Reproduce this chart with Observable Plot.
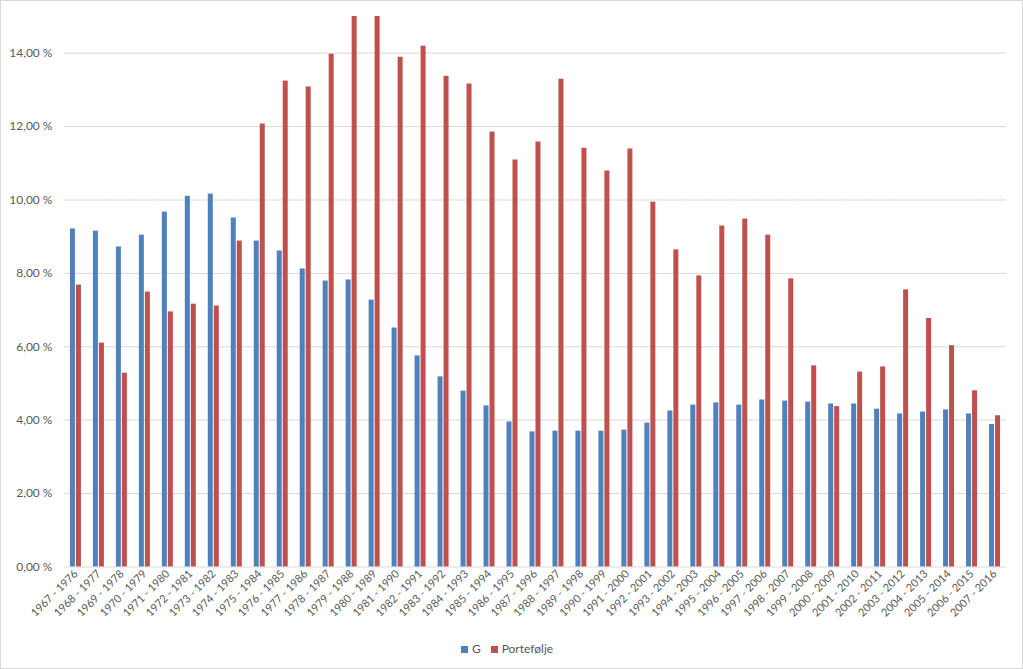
<!DOCTYPE html>
<html>
<head>
<meta charset="utf-8">
<script src="https://cdn.jsdelivr.net/npm/d3@7"></script>
<script src="https://cdn.jsdelivr.net/npm/@observablehq/plot@0.6"></script>
<style>
  html, body { margin: 0; padding: 0; background: #fff; }
  #frame { position: relative; width: 1023px; height: 669px; box-sizing: border-box; border: 1px solid #d9d9d9; overflow: hidden; font-family: Lato, "Open Sans", sans-serif; }
  #chart { position: absolute; left: -1px; top: -1px; }
  #legend { position: absolute; top: 640px; left: 0; width: 1012px; text-align: center; font-size: 12px; color: #595959; }
  #legend span.item { display: inline-block; margin: 0 5px; }
  #legend span.sw { display: inline-block; width: 7px; height: 7px; margin-right: 4px; vertical-align: 0px; }
</style>
</head>
<body>
<div id="frame">
  <div id="chart"></div>
  <div id="legend"></div>
</div>
<script>
const categories = [
  "1967 - 1976","1968 - 1977","1969 - 1978","1970 - 1979","1971 - 1980","1972 - 1981","1973 - 1982",
  "1974 - 1983","1975 - 1984","1976 - 1985","1977 - 1986","1978 - 1987","1979 - 1988","1980 - 1989",
  "1981 - 1990","1982 - 1991","1983 - 1992","1984 - 1993","1985 - 1994","1986 - 1995","1987 - 1996",
  "1988 - 1997","1989 - 1998","1990 - 1999","1991 - 2000","1992 - 2001","1993 - 2002","1994 - 2003",
  "1995 - 2004","1996 - 2005","1997 - 2006","1998 - 2007","1999 - 2008","2000 - 2009","2001 - 2010",
  "2002 - 2011","2003 - 2012","2004 - 2013","2005 - 2014","2006 - 2015","2007 - 2016"
];
const seriesNames = ["G", "Portefølje"];
const seriesColors = ["#4f81bd", "#c0504d"];
// percent values
const gValues = [
  9.21, 9.15, 8.72, 9.04, 9.67, 10.10, 10.16,
  9.51, 8.88, 8.61, 8.12, 7.79, 7.82, 7.27,
  6.51, 5.75, 5.18, 4.79, 4.39, 3.95, 3.68,
  3.70, 3.70, 3.70, 3.73, 3.92, 4.25, 4.41,
  4.47, 4.41, 4.55, 4.52, 4.49, 4.44, 4.44,
  4.30, 4.17, 4.22, 4.28, 4.17, 3.88
];
const pValues = [
  7.68, 6.10, 5.28, 7.49, 6.95, 7.16, 7.11,
  8.88, 12.07, 13.24, 13.08, 13.97, 15.00, 15.00,
  13.89, 14.19, 13.37, 13.16, 11.85, 11.09, 11.58,
  13.29, 11.41, 10.79, 11.39, 9.94, 8.64, 7.93,
  9.29, 9.48, 9.04, 7.85, 5.48, 4.37, 5.31,
  5.45, 7.55, 6.77, 6.03, 4.80, 4.12
];
const yTicks = [0, 0.02, 0.04, 0.06, 0.08, 0.10, 0.12, 0.14];

const data = categories.flatMap((c, i) => [
  {period: c, series: seriesNames[0], value: gValues[i] / 100},
  {period: c, series: seriesNames[1], value: pValues[i] / 100}
]);

const fmt = v => (v * 100).toFixed(2).replace(".", ",") + " %";

const chart = Plot.plot({
  width: 1023,
  height: 636,
  marginLeft: 63,
  marginRight: 15,
  marginTop: 16,
  marginBottom: 69,
  style: {fontFamily: "Lato, 'Open Sans', sans-serif", fontSize: "12px", color: "#595959", background: "transparent"},
  facet: {data: data, x: "period"},
  fx: {domain: categories, padding: 0, label: null, tickRotate: -45, tickSize: 0, tickPadding: 5},
  x: {domain: seriesNames, paddingInner: 0.1, paddingOuter: 0.78, axis: null},
  y: {domain: [0, 0.15], ticks: yTicks, tickFormat: fmt, label: null, tickSize: 0, tickPadding: 12},
  color: {domain: seriesNames, range: seriesColors},
  marks: [
    Plot.ruleY(yTicks, {stroke: "#d9d9d9", strokeWidth: 1}),
    Plot.barY(data, {x: "series", y: "value", fill: "series"})
  ]
});
chart.querySelectorAll('[aria-label="fx-axis"] text, [aria-label="fx-axis tick label"] text').forEach(t => t.setAttribute("font-size", "11px"));
document.getElementById("chart").appendChild(chart);

const legend = document.getElementById("legend");
seriesNames.forEach((name, i) => {
  const item = document.createElement("span");
  item.className = "item";
  const sw = document.createElement("span");
  sw.className = "sw";
  sw.style.background = seriesColors[i];
  item.appendChild(sw);
  item.appendChild(document.createTextNode(name));
  legend.appendChild(item);
});
</script>
</body>
</html>
